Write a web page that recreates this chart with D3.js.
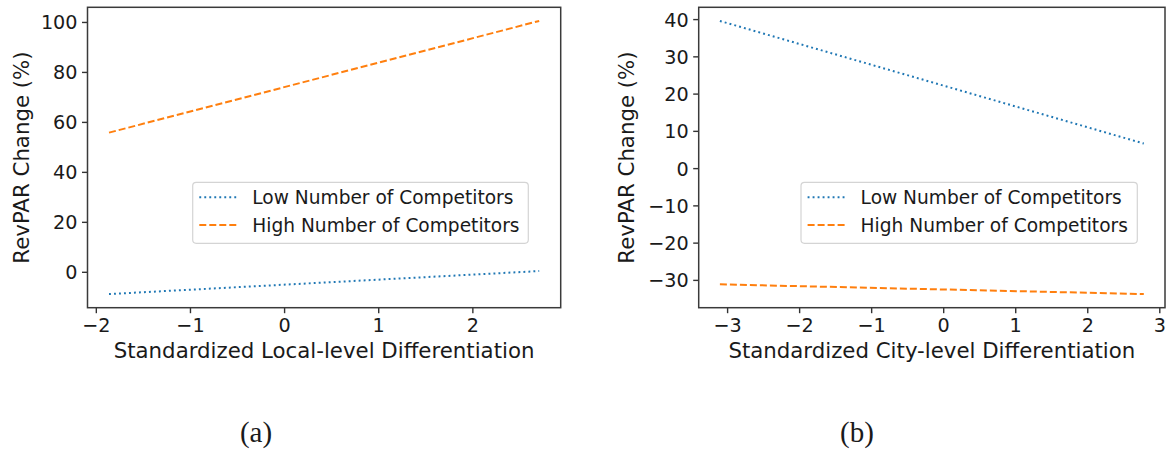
<!DOCTYPE html>
<html>
<head>
<meta charset="utf-8">
<script src="https://cdn.jsdelivr.net/npm/d3@7"></script>
<style>
  html, body { margin: 0; padding: 0; background: #fff; }
  svg { display: block; }
  text { font-family: "DejaVu Sans", sans-serif; fill: #1a1a1a; }
</style>
</head>
<body>
<svg id="fig" width="1168" height="453"></svg>
<script>
// Predicted RevPAR change across differentiation levels, split by competitor count.
const seriesNames = ["Low Number of Competitors", "High Number of Competitors"];

// (a) local-level differentiation
const localX = [-1.86, 2.71];
const localLow = [-8.9, 0.3];
const localHigh = [55.7, 100.4];
const localXTicks = [-2, -1, 0, 1, 2];
const localYTicks = [0, 20, 40, 60, 80, 100];

// (b) city-level differentiation
const cityX = [-3.10, 2.785];
const cityLow = [39.5, 6.6];
const cityHigh = [-31.2, -33.8];
const cityXTicks = [-3, -2, -1, 0, 1, 2, 3];
const cityYTicks = [-30, -20, -10, 0, 10, 20, 30, 40];

const captions = ["(a)", "(b)"];

const svg = d3.select("#fig");
const colors = ["#1f77b4", "#ff7f0e"];
const dashes = ["1.9,3.1", "7,3"];
const fmt = d3.format("");

// matplotlib-style 5% padding around the data extent
function padded(vals) {
  const [lo, hi] = d3.extent(vals);
  const m = (hi - lo) * 0.05;
  return [lo - m, hi + m];
}

function panel(cfg) {
  const { left, right, top, bottom } = cfg.box;
  const x = d3.scaleLinear().domain(padded(cfg.x)).range([left, right]);
  const y = d3.scaleLinear().domain(padded(cfg.low.concat(cfg.high))).range([bottom, top]);
  const g = svg.append("g");

  // x axis
  const xa = g.append("g")
    .attr("transform", `translate(0,${bottom})`)
    .call(d3.axisBottom(x).tickValues(cfg.xTicks).tickFormat(fmt).tickSize(5.5));
  xa.select(".domain").remove();
  xa.selectAll(".tick line").attr("stroke", "#333").attr("stroke-width", 1.4);
  xa.selectAll(".tick text")
    .attr("dy", null).attr("y", 24.5)
    .style("font-size", "19.2px").attr("fill", "#1a1a1a");

  // y axis
  const ya = g.append("g")
    .attr("transform", `translate(${left},0)`)
    .call(d3.axisLeft(y).tickValues(cfg.yTicks).tickFormat(fmt).tickSize(5.5));
  ya.select(".domain").remove();
  ya.selectAll(".tick line").attr("stroke", "#333").attr("stroke-width", 1.4);
  ya.selectAll(".tick text")
    .attr("x", -10).attr("dy", "0.36em")
    .style("font-size", "19.2px").attr("fill", "#1a1a1a");

  // frame
  g.append("rect")
    .attr("x", left).attr("y", top)
    .attr("width", right - left).attr("height", bottom - top)
    .attr("fill", "none").attr("stroke", "#3a3a3a").attr("stroke-width", 1.5);

  // series lines
  const line = d3.line().x(d => x(d[0])).y(d => y(d[1]));
  [cfg.low, cfg.high].forEach((vals, i) => {
    g.append("path")
      .datum(cfg.x.map((xv, j) => [xv, vals[j]]))
      .attr("d", line)
      .attr("fill", "none")
      .attr("stroke", colors[i])
      .attr("stroke-width", 2)
      .attr("stroke-dasharray", dashes[i])
      .attr("stroke-linecap", "butt");
  });

  // axis titles
  g.append("text")
    .attr("x", (left + right) / 2).attr("y", 358.3)
    .attr("text-anchor", "middle")
    .style("font-size", "21.3px")
    .text(cfg.xLabel);
  g.append("text")
    .attr("transform", `translate(${cfg.yLabelX},${(top + bottom) / 2}) rotate(-90)`)
    .attr("text-anchor", "middle")
    .style("font-size", "21.3px")
    .text("RevPAR Change (%)");

  // legend
  const L = cfg.legend;
  const lg = g.append("g");
  lg.append("rect")
    .attr("x", L.x).attr("y", L.y).attr("width", L.w).attr("height", L.h)
    .attr("rx", 3.5)
    .attr("fill", "#fff").attr("fill-opacity", 0.8)
    .attr("stroke", "#d4d4d4").attr("stroke-width", 1.2);
  seriesNames.forEach((name, i) => {
    const cy = L.y + 15 + i * 27.7;
    lg.append("line")
      .attr("x1", L.x + 6.6).attr("x2", L.x + 44)
      .attr("y1", cy).attr("y2", cy)
      .attr("stroke", colors[i]).attr("stroke-width", 2)
      .attr("stroke-dasharray", dashes[i]);
    lg.append("text")
      .attr("x", L.x + 59.6).attr("y", cy + 6.8)
      .style("font-size", "18.6px")
      .text(name);
  });

  // caption
  svg.append("text")
    .attr("x", cfg.captionX).attr("y", 442)
    .attr("text-anchor", "middle")
    .style("font-family", "'Liberation Serif', 'Times New Roman', serif")
    .style("font-size", "29px")
    .text(cfg.caption);
}

panel({
  box: { left: 87.5, right: 560.7, top: 7.3, bottom: 307.7 },
  x: localX, low: localLow, high: localHigh,
  xTicks: localXTicks, yTicks: localYTicks,
  xLabel: "Standardized Local-level Differentiation",
  yLabelX: 28.5,
  legend: { x: 192.7, y: 182.3, w: 335.6, h: 61 },
  caption: captions[0], captionX: 256
});

panel({
  box: { left: 698.7, right: 1165, top: 7.3, bottom: 307.7 },
  x: cityX, low: cityLow, high: cityHigh,
  xTicks: cityXTicks, yTicks: cityYTicks,
  xLabel: "Standardized City-level Differentiation",
  yLabelX: 634,
  legend: { x: 801, y: 182.3, w: 336.3, h: 61 },
  caption: captions[1], captionX: 857
});
</script>
</body>
</html>
